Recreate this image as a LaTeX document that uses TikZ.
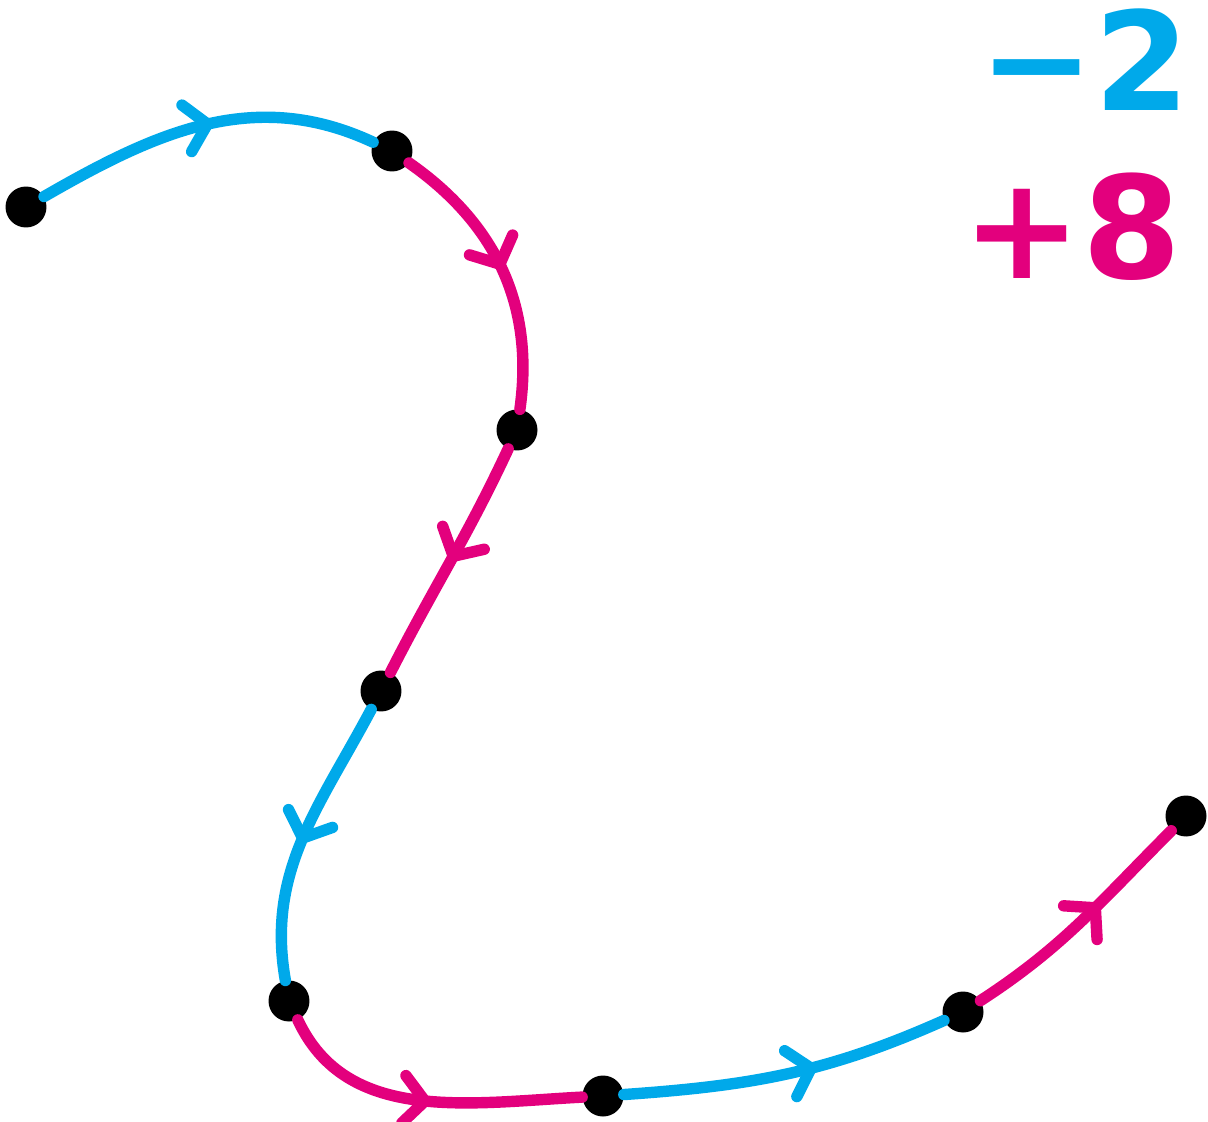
\documentclass[tikz,border=0pt]{standalone}
\usepackage{fontspec}
\setmainfont{DejaVu Sans}
\usetikzlibrary{arrows.meta, decorations.markings}
\definecolor{negblue}{HTML}{00A9EA}
\definecolor{posmagenta}{HTML}{E3007D}

\begin{document}
\begin{tikzpicture}[
    x=0.02cm, y=0.02cm,
    dot/.style={circle, fill=black, inner sep=0pt, minimum size=0.82cm},
    seg/.style={line width=6.5pt, line cap=round, postaction={decorate},
        decoration={markings, mark=at position #1 with {\arrow{Straight Barb[length=12pt, width=27pt, round]}}}},
    seg/.default=0.5,
    neg/.style={seg=#1, negblue},
    neg/.default=0.5,
    pos/.style={seg=#1, posmagenta},
    pos/.default=0.5,
    score/.style={font=\fontsize{78}{78}\selectfont\bfseries, inner sep=0pt},
]
\useasboundingbox (0,0) rectangle (1208,-1122);

% Points along the walk
\node[dot] (p0) at (26,-207) {};
\node[dot] (p1) at (392,-151) {};
\node[dot] (p2) at (517,-430) {};
\node[dot] (p3) at (381,-691) {};
\node[dot] (p4) at (289,-1001) {};
\node[dot] (p5) at (603,-1096) {};
\node[dot] (p6) at (963,-1012) {};
\node[dot] (p7) at (1186,-816) {};

% Steps
\draw[neg=0.53] (p0) to[out=30, in=155] (p1);
\draw[pos=0.5] (p1) to[out=-35, in=82] (p2);
\draw[pos=0.5] (p2) to[out=-115, in=63] (p3);
\draw[neg=0.52] (p3) to[out=-118, in=100] (p4);
\draw[pos=0.52] (p4) to[out=-65, in=183] (p5);
\draw[neg=0.59] (p5) to[out=4, in=204] (p6);
\draw[pos=0.6] (p6) to[out=33, in=225] (p7);

% Totals
\node[score, text=negblue] (minus) at (1085,-60) {−2};
\node[score, text=posmagenta, font=\fontsize{81}{81}\selectfont\bfseries] (plus) at (1072,-227) {+8};

\end{tikzpicture}
\end{document}
